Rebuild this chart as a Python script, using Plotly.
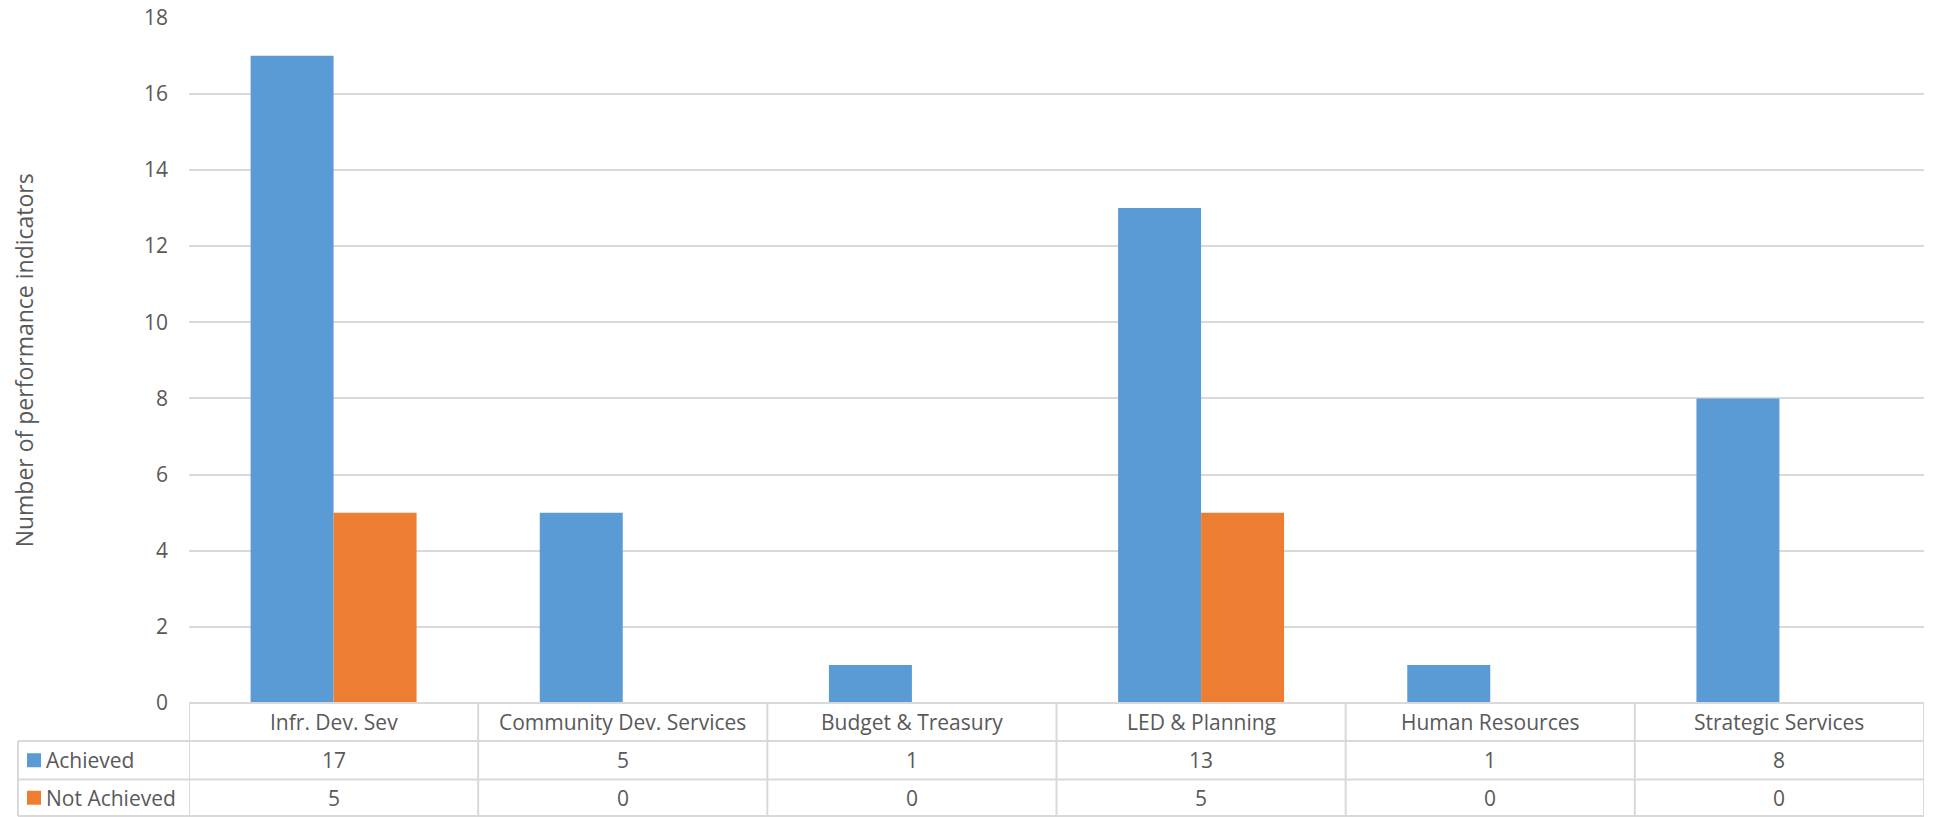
import plotly.graph_objects as go

# Indicator counts per department
categories = ["Infr. Dev. Sev", "Community Dev. Services", "Budget & Treasury",
              "LED & Planning", "Human Resources", "Strategic Services"]
achieved = [17, 5, 1, 13, 1, 8]
not_achieved = [5, 0, 0, 5, 0, 0]
series_names = ["Achieved", "Not Achieved"]
y_ticks = [0, 2, 4, 6, 8, 10, 12, 14, 16, 18]

BLUE = "#5B9BD5"
ORANGE = "#ED7D31"
TEXT = "#595959"
GRID = "#D9D9D9"
FONT = "Open Sans"

W, H = 1937, 817


def px_x(p):
    return p / W


def px_y(p):
    return (H - p) / H


# layout geometry (pixels)
plot_left, plot_right = 189, 1924
plot_top, plot_bottom = 17.7, 703
row_lines = [703, 741, 779.5, 816]
legend_left = 18

fig = go.Figure()
fig.add_trace(go.Bar(x=categories, y=achieved, name=series_names[0],
                     marker=dict(color=BLUE, line=dict(width=0))))
fig.add_trace(go.Bar(x=categories, y=not_achieved, name=series_names[1],
                     marker=dict(color=ORANGE, line=dict(width=0))))

shapes = []
annotations = []
n = len(categories)

# data table: horizontal rules
shapes.append(dict(type="line", xref="x", yref="paper", x0=-0.5, x1=n - 0.5,
                   y0=px_y(row_lines[0]), y1=px_y(row_lines[0]),
                   line=dict(color=GRID, width=2)))
for r in row_lines[1:]:
    shapes.append(dict(type="line", xref="paper", yref="paper",
                       x0=px_x(legend_left), x1=px_x(plot_right),
                       y0=px_y(r), y1=px_y(r), line=dict(color=GRID, width=2)))
# vertical rules between category columns
for k in range(n + 1):
    shapes.append(dict(type="line", xref="x", yref="paper", x0=k - 0.5, x1=k - 0.5,
                       y0=px_y(row_lines[0]), y1=px_y(row_lines[-1]),
                       line=dict(color=GRID, width=2)))
# legend column left edge
shapes.append(dict(type="line", xref="paper", yref="paper",
                   x0=px_x(legend_left), x1=px_x(legend_left),
                   y0=px_y(row_lines[1]), y1=px_y(row_lines[-1]),
                   line=dict(color=GRID, width=2)))

cell_font = dict(family=FONT, size=21, color=TEXT)

# header row: category names
for c in categories:
    annotations.append(dict(x=c, xref="x", y=px_y((row_lines[0] + row_lines[1]) / 2),
                            yref="paper", text=c, showarrow=False, font=cell_font,
                            xanchor="center", yanchor="middle"))
# value rows with legend keys
for i, (name, vals, col) in enumerate([(series_names[0], achieved, BLUE),
                                        (series_names[1], not_achieved, ORANGE)]):
    yc = (row_lines[i + 1] + row_lines[i + 2]) / 2
    for c, v in zip(categories, vals):
        annotations.append(dict(x=c, xref="x", y=px_y(yc), yref="paper",
                                text=str(v), showarrow=False, font=cell_font,
                                xanchor="center", yanchor="middle"))
    shapes.append(dict(type="rect", xref="paper", yref="paper",
                       x0=px_x(27), x1=px_x(41), y0=px_y(yc + 7), y1=px_y(yc - 7),
                       fillcolor=col, line=dict(width=0)))
    annotations.append(dict(x=px_x(44), xref="paper", y=px_y(yc), yref="paper",
                            text=name, showarrow=False, font=cell_font,
                            xanchor="left", yanchor="middle"))

# y axis title
annotations.append(dict(x=px_x(24), xref="paper", y=px_y((plot_top + plot_bottom) / 2),
                        yref="paper", text="Number of performance indicators",
                        textangle=-90, showarrow=False,
                        font=dict(family=FONT, size=23, color=TEXT),
                        xanchor="center", yanchor="middle"))

fig.update_layout(
    width=W, height=H,
    margin=dict(l=0, r=0, t=0, b=0, autoexpand=False),
    paper_bgcolor="white", plot_bgcolor="white",
    barmode="group", bargap=0.426, bargroupgap=0,
    showlegend=False,
    shapes=shapes, annotations=annotations,
    xaxis=dict(domain=[px_x(plot_left), px_x(plot_right)], range=[-0.5, n - 0.5],
               showticklabels=False, showgrid=False, zeroline=False, showline=False),
    yaxis=dict(domain=[px_y(plot_bottom), px_y(plot_top)], range=[0, 18],
               tickvals=y_ticks, ticktext=[str(t) for t in y_ticks],
               showgrid=True, gridcolor=GRID, gridwidth=2, zeroline=False,
               showline=False, ticks="", ticklabelstandoff=20,
               tickfont=dict(family=FONT, size=21, color=TEXT)),
    font=dict(family=FONT, color=TEXT),
)

fig.write_html("out.html")
